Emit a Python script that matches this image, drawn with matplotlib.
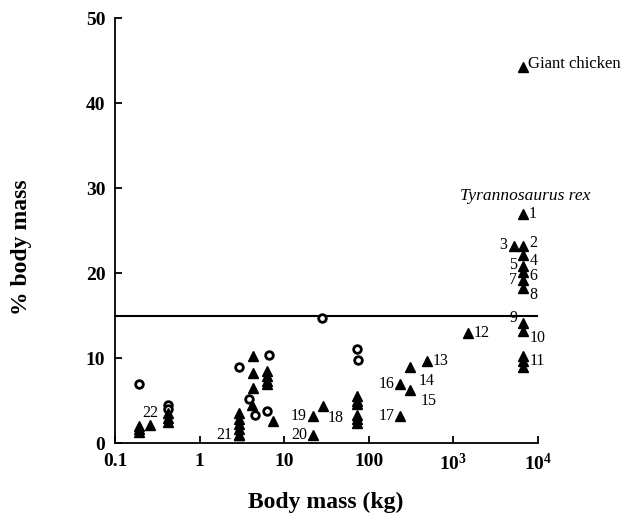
import matplotlib
matplotlib.use('Agg')
import matplotlib.pyplot as plt
import numpy as np

plt.rcParams['font.family'] = 'Liberation Serif'
plt.rcParams['mathtext.fontset'] = 'custom'
plt.rcParams['mathtext.rm'] = 'Liberation Serif:bold'
plt.rcParams['mathtext.it'] = 'Liberation Serif:bold'
plt.rcParams['mathtext.bf'] = 'Liberation Serif:bold'

# open circles (unlabelled)
circ_mass = [0.19, 0.42, 0.42, 2.9, 6.6, 3.8, 4.5, 6.3, 28, 72, 74]
circ_pct = [7.0, 4.5, 4.0, 9.0, 10.4, 5.2, 3.3, 3.8, 14.7, 11.1, 9.8]

# filled triangles without a number
tri_mass = [0.19, 0.19, 0.19, 0.42, 0.42, 0.42,
            2.9, 2.9, 2.9, 2.9, 2.9,
            4.3, 4.3, 4.3, 4.2,
            6.2, 6.2, 6.2, 6.2, 7.4,
            72, 72, 72, 72, 72, 72,
            6600, 6600]
tri_pct = [2.0, 1.6, 1.3, 3.5, 3.0, 2.5,
           3.5, 2.8, 2.2, 1.6, 1.0,
           10.2, 8.2, 6.5, 4.5,
           8.5, 7.9, 7.3, 6.9, 2.6,
           5.5, 5.0, 4.6, 3.3, 2.8, 2.4,
           9.6, 9.0]

# numbered triangles
num_labels = ['1', '2', '3', '4', '5', '6', '7', '8', '9', '10', '11',
              '12', '13', '14', '15', '16', '17', '18', '19', '20', '21', '22']
num_mass = [6600, 6700, 5200, 6600, 6600, 6600, 6600, 6600, 6600, 6600, 6600,
            1500, 483, 307, 307, 234, 234, 29, 21.7, 21.7, 2.9, 0.26]
num_pct = [27.0, 23.2, 23.2, 22.1, 20.8, 20.1, 19.2, 18.2, 14.1, 13.2, 10.2,
           13.0, 9.6, 8.9, 6.2, 7.0, 3.2, 4.3, 3.2, 0.9, 1.0, 2.1]
# label offsets in points and alignment
num_off = [(4, 0, 'left'), (4, 2, 'left'), (-5, 1, 'right'), (5, -4, 'left'),
           (-4, 1, 'right'), (5, -3, 'left'), (-4, 0, 'right'), (5, -5, 'left'),
           (-4, 4, 'right'), (5, -5, 'left'), (5, -3, 'left'),
           (4, 0, 'left'), (4, 0, 'left'), (6, -10, 'left'), (8, -8, 'left'),
           (-4, 0, 'right'), (-4, 0, 'right'), (3, -8, 'left'), (-4, 0, 'right'),
           (-4, 0, 'right'), (-5, 0, 'right'), (0, 9, 'center')]

chicken_mass = 6600
chicken_pct = 44.3
threshold = 15

fig = plt.figure(figsize=(6.29, 5.22), dpi=100)
ax = fig.add_axes([0.1828, 0.1513, 0.6725, 0.8137])

ax.axhline(threshold, color='black', lw=1.5, zorder=1)

ax.plot(circ_mass, circ_pct, 'o', ms=5.5, mfc='white', mec='black', mew=2, ls='none', zorder=3)
ax.plot(tri_mass, tri_pct, '^', ms=7, color='black', ls='none', zorder=3)
ax.plot(num_mass, num_pct, '^', ms=7, color='black', ls='none', zorder=3)
ax.plot([chicken_mass], [chicken_pct], '^', ms=7, color='black', zorder=3)

for lab, x, y, (dx, dy, ha) in zip(num_labels, num_mass, num_pct, num_off):
    ax.annotate(lab, (x, y), xytext=(dx, dy), textcoords='offset points',
                ha=ha, va='center', fontsize=11.5)

ax.annotate('Giant chicken', (chicken_mass, chicken_pct), xytext=(4, 2),
            textcoords='offset points', ha='left', va='center', fontsize=12)
ax.annotate('Tyrannosaurus rex', (6600, 27.0), xytext=(2, 12.5),
            textcoords='offset points', ha='center', va='center',
            fontsize=12.5, style='italic')

ax.set_xscale('log')
ax.set_xlim(0.1, 1e4)
ax.set_ylim(0, 50)
ax.set_xticks([0.1, 1, 10, 100, 1e3, 1e4])
ax.set_xticklabels(['0.1', '1', '10', '100', r'$10^3$', r'$10^4$'])
ax.xaxis.set_minor_locator(matplotlib.ticker.NullLocator())
ax.set_yticks([0, 10, 20, 30, 40, 50])
for t in ax.get_xticklabels() + ax.get_yticklabels():
    t.set_fontweight('bold')
    t.set_fontsize(14)

ax.tick_params(direction='in', length=5, width=1.3, pad=7)
ax.spines['top'].set_visible(False)
ax.spines['right'].set_visible(False)
for s in ['left', 'bottom']:
    ax.spines[s].set_linewidth(1.3)

ax.set_xlabel('Body mass (kg)', fontsize=17, fontweight='bold')
ax.set_ylabel('% body mass', fontsize=17, fontweight='bold')
ax.xaxis.set_label_coords(0.498, -0.139)
ax.yaxis.set_label_coords(-0.22, 0.4615)
ax.xaxis.label.set_va('center')
ax.yaxis.label.set_va('center')

fig.savefig('out.png', dpi=100)
